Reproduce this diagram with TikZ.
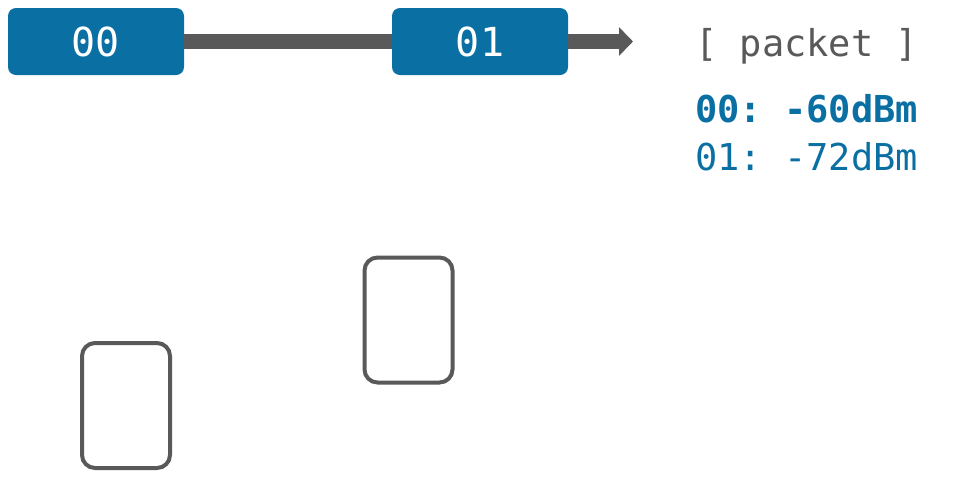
\documentclass[tikz,border=0pt]{standalone}
\usepackage{fontspec}
\setmonofont{DejaVu Sans Mono}
\usetikzlibrary{arrows.meta}
\definecolor{pblue}{HTML}{0A6FA3}
\definecolor{dgray}{HTML}{595959}
\begin{document}
\begin{tikzpicture}[x=1pt,y=-1pt,
  pkt/.style={fill=pblue,rounded corners=8pt,minimum width=176pt,minimum height=67pt,inner sep=0pt,text=white,font=\ttfamily\fontsize{40}{40}\selectfont},
  dev/.style={draw=dgray,line width=4pt,rounded corners=13pt,minimum width=88pt,minimum height=125pt,inner sep=0pt},
  link/.style={draw=dgray,line width=15pt},
  lbl/.style={anchor=base west,inner sep=0pt,font=\ttfamily\fontsize{37}{37}\selectfont}]
\useasboundingbox (0,0) rectangle (960,480);
\node[pkt] (p0) at (96,41.5) {00};
\node[pkt] (p1) at (480,41.5) {01};
\coordinate (tip) at (633,41.5);
\draw[link] (p0.east) -- (p1.west);
\draw[link,-{Triangle[length=14pt,width=28pt]}] (p1.east) -- (tip);
\node[lbl,text=dgray] (hdr) at (695,56) {[ packet ]};
\node[lbl,text=pblue,font=\ttfamily\bfseries\fontsize{37}{37}\selectfont] (r0) at (695,122) {00: -60dBm};
\node[lbl,text=pblue] (r1) at (695,170) {01: -72dBm};
\node[dev] (d0) at (126,405.5) {};
\node[dev] (d1) at (408.5,320) {};
\end{tikzpicture}
\end{document}
